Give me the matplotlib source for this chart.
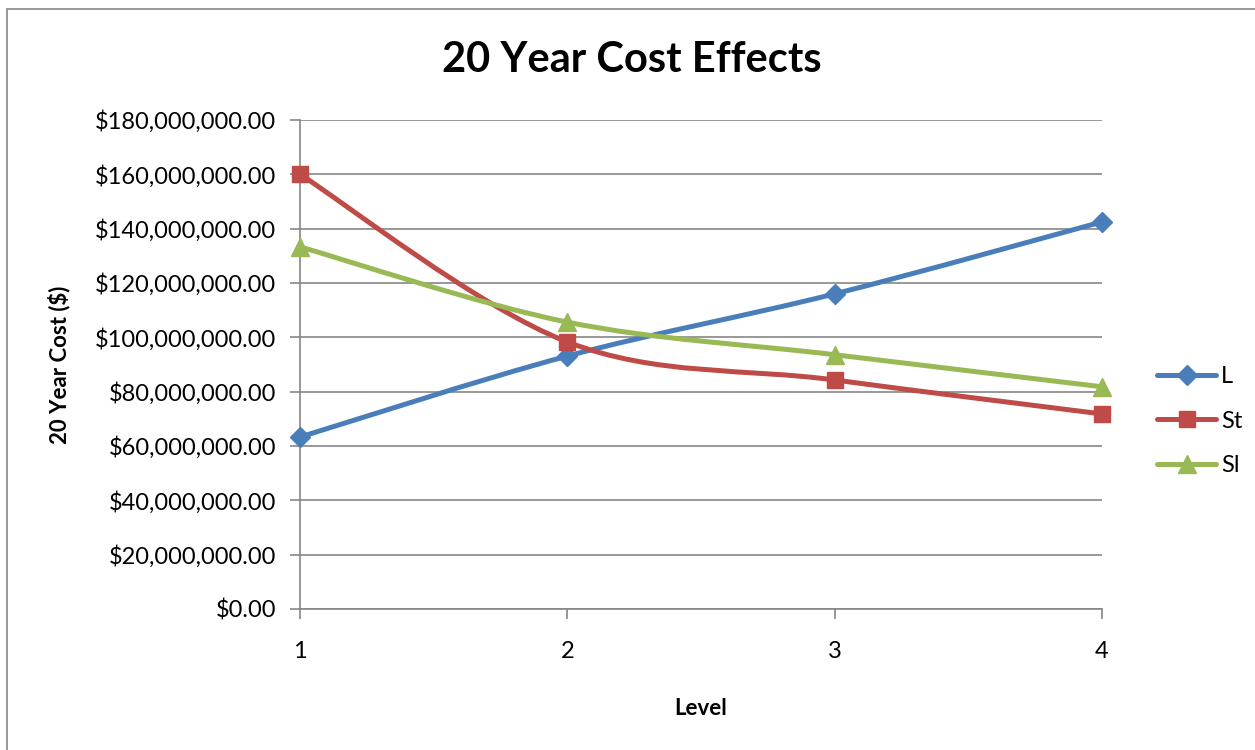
import matplotlib
matplotlib.use("Agg")
import matplotlib.pyplot as plt
from matplotlib.path import Path
from matplotlib.patches import PathPatch, Rectangle
from matplotlib.lines import Line2D
from matplotlib.ticker import FuncFormatter, MultipleLocator

plt.rcParams['font.family'] = ['Lato', 'DejaVu Sans']

levels = [1, 2, 3, 4]
series_names = ["L", "St", "Sl"]
cost_L = [63.3e6, 93.1e6, 116.0e6, 142.5e6]
cost_St = [160.0e6, 98.3e6, 84.3e6, 71.8e6]
cost_Sl = [133.3e6, 105.6e6, 93.6e6, 81.8e6]

colors = ["#4A7EBB", "#BE4B48", "#98B954"]
markers = ["D", "s", "^"]
msizes = [10, 12, 13]


def smooth_path(xs, ys):
    # Cubic Bezier segments through every point (Excel-style smoothing)
    pts = list(zip(xs, ys))
    n = len(pts)
    verts = [pts[0]]
    codes = [Path.MOVETO]
    for i in range(n - 1):
        p0 = pts[max(i - 1, 0)]
        p1 = pts[i]
        p2 = pts[i + 1]
        p3 = pts[min(i + 2, n - 1)]
        c1 = (p1[0] + (p2[0] - p0[0]) / 6, p1[1] + (p2[1] - p0[1]) / 6)
        c2 = (p2[0] - (p3[0] - p1[0]) / 6, p2[1] - (p3[1] - p1[1]) / 6)
        verts += [c1, c2, p2]
        codes += [Path.CURVE4] * 3
    return Path(verts, codes)


fig = plt.figure(figsize=(12.55, 7.5), dpi=100)
fig.patches.append(Rectangle((7 / 1255, -0.01), 1.1, (750 - 9) / 750 + 0.01,
                             transform=fig.transFigure, fill=False,
                             edgecolor="#868686", linewidth=1.2))

ax = fig.add_axes([300 / 1255, (750 - 609) / 750, 802 / 1255, 489 / 750])

for vals, c, m, ms in zip([cost_L, cost_St, cost_Sl], colors, markers, msizes):
    patch = PathPatch(smooth_path(levels, vals), fill=False, edgecolor=c,
                      linewidth=3.6, capstyle="round", joinstyle="round",
                      zorder=3)
    ax.add_patch(patch)
    ax.plot(levels, vals, linestyle="none", marker=m, markersize=ms,
            color=c, markeredgecolor=c, zorder=4, clip_on=False)

ax.set_xlim(1, 4)
ax.set_ylim(0, 180e6)
ax.set_xticks(levels)
ax.yaxis.set_major_locator(MultipleLocator(20e6))
ax.yaxis.set_major_formatter(FuncFormatter(lambda v, p: f"${v:,.2f}"))
ax.grid(axis="y", color="#868686", linewidth=1.2)
ax.set_axisbelow(True)
for s in ["top", "right"]:
    ax.spines[s].set_visible(False)
for s in ["left", "bottom"]:
    ax.spines[s].set_color("#868686")
    ax.spines[s].set_linewidth(1.2)
ax.tick_params(axis="both", direction="out", length=7, width=1.2,
               color="#868686", labelsize=17, labelcolor="black")
ax.tick_params(axis="y", pad=10)
ax.tick_params(axis="x", pad=16)

fig.text(632 / 1255, 1 - 60 / 750, "20 Year Cost Effects", fontsize=30,
         fontweight="bold", ha="center", va="center")
ax.set_ylabel("20 Year Cost ($)", fontsize=16, fontweight="bold", labelpad=18)
ax.set_xlabel("Level", fontsize=16, fontweight="bold", labelpad=26)

handles = [Line2D([0], [0], color=c, linewidth=3.6, marker=m, markersize=ms,
                  solid_capstyle="round")
           for c, m, ms in zip(colors, markers, msizes)]
fig.legend(handles, series_names, loc="center left",
           bbox_to_anchor=(1136 / 1255, 1 - 421 / 750), frameon=False,
           fontsize=17, handlelength=2.5, handletextpad=0.2, labelspacing=1.0)

fig.savefig("out.png", dpi=100)
